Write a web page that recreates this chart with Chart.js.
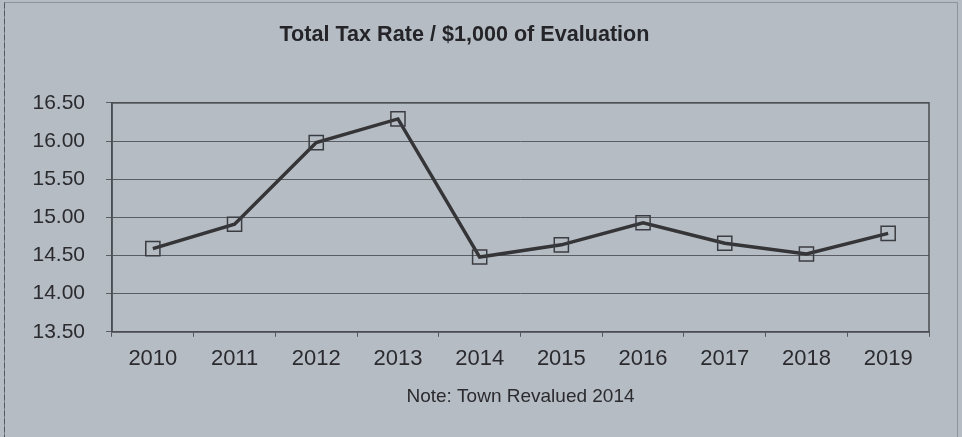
<!DOCTYPE html>
<html>
<head>
<meta charset="utf-8">
<script src="https://cdn.jsdelivr.net/npm/chart.js@4.4.1/dist/chart.umd.min.js"></script>
<style>
  html, body { margin: 0; padding: 0; background: #b5bcc4; }
  #wrap { width: 962px; height: 437px; }
</style>
</head>
<body>
<div id="wrap"><canvas id="taxChart" width="962" height="437"></canvas></div>
<script>
// --- Data ---
const years = ["2010", "2011", "2012", "2013", "2014", "2015", "2016", "2017", "2018", "2019"];
const taxRates = [14.59, 14.91, 15.98, 16.29, 14.48, 14.64, 14.93, 14.66, 14.52, 14.79];
const yTicks = [13.5, 14.0, 14.5, 15.0, 15.5, 16.0, 16.5];
const chartTitle = "Total Tax Rate / $1,000 of Evaluation";
const noteText = "Note: Town Revalued 2014";

// background, plot box and page frame
const framePlugin = {
    id: 'frame',
    beforeDraw(chart) {
        const ctx = chart.ctx;
        ctx.save();
        ctx.fillStyle = '#b5bcc4';
        ctx.fillRect(0, 0, chart.width, chart.height);
        ctx.restore();
    },
    afterDraw(chart) {
        const ctx = chart.ctx;
        const a = chart.chartArea;
        ctx.save();
        ctx.strokeStyle = '#4a4d52';
        ctx.lineWidth = 1.5;
        ctx.strokeRect(a.left, a.top, a.right - a.left, a.bottom - a.top);
        // outer frame
        ctx.lineWidth = 1;
        ctx.strokeStyle = '#8d939b';
        ctx.beginPath();
        ctx.moveTo(4.5, chart.height);
        ctx.lineTo(4.5, 2.5);
        ctx.lineTo(957.5, 2.5);
        ctx.lineTo(957.5, chart.height);
        ctx.stroke();
        ctx.strokeStyle = '#55595f';
        ctx.setLineDash([6, 2]);
        ctx.beginPath();
        ctx.moveTo(4.5, 2.5);
        ctx.lineTo(4.5, chart.height);
        ctx.stroke();
        ctx.restore();
    }
};

const ctx = document.getElementById('taxChart').getContext('2d');
new Chart(ctx, {
    type: 'line',
    data: {
        labels: years,
        datasets: [{
            label: 'Total Tax Rate',
            data: taxRates,
            borderColor: '#353538',
            borderWidth: 3.5,
            tension: 0,
            pointStyle: 'rect',
            pointRadius: 10,
            pointBorderWidth: 1.5,
            pointBorderColor: '#3c3d42',
            pointBackgroundColor: 'rgba(0,0,0,0)'
        }]
    },
    options: {
        responsive: false,
        animation: false,
        layout: { padding: { left: 0, right: 33, top: 10, bottom: 26 } },
        plugins: {
            legend: { display: false },
            tooltip: { enabled: false },
            title: {
                display: true,
                text: chartTitle,
                color: '#252529',
                font: { family: 'Liberation Sans, Arial, sans-serif', size: 21.6, weight: 'bold' },
                padding: { top: 12, bottom: 55 }
            }
        },
        scales: {
            x: {
                offset: true,
                grid: {
                    offset: true,
                    drawOnChartArea: false,
                    drawTicks: true,
                    tickLength: 5,
                    color: '#55595f'
                },
                border: { color: '#4a4d52', width: 1.5 },
                ticks: {
                    color: '#2b2b2f',
                    padding: 9,
                    font: { family: 'Liberation Sans, Arial, sans-serif', size: 22 }
                },
                title: {
                    display: true,
                    text: noteText,
                    color: '#2b2b2f',
                    font: { family: 'Liberation Sans, Arial, sans-serif', size: 19 },
                    padding: { top: 4, bottom: 3 }
                }
            },
            y: {
                min: 13.5,
                max: 16.5,
                afterBuildTicks: (scale) => { scale.ticks = yTicks.map(v => ({ value: v })); },
                afterFit: (scale) => { scale.width = 112; },
                grid: {
                    color: '#5a5e64',
                    lineWidth: 1,
                    tickLength: 6,
                    drawTicks: true
                },
                border: { color: '#4a4d52', width: 1.5 },
                ticks: {
                    color: '#2b2b2f',
                    padding: 21,
                    font: { family: 'Liberation Sans, Arial, sans-serif', size: 21 },
                    callback: (v) => Number(v).toFixed(2)
                }
            }
        }
    },
    plugins: [framePlugin]
});
</script>
</body>
</html>
